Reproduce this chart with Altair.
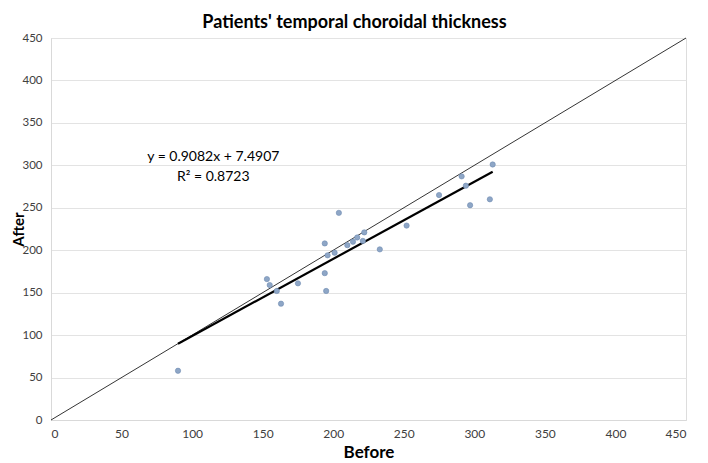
import altair as alt
import pandas as pd

before = [90, 204, 194, 196, 201, 210, 214, 217, 222, 221, 233, 194, 195, 175, 153,
          155, 160, 163, 313, 291, 294, 275, 297, 311, 252]
after = [58, 244, 208, 194, 197, 206, 210, 215, 221, 211, 201, 173, 152, 161, 166,
         159, 152, 137, 301, 287, 276, 265, 253, 260, 229]

identity_x = [0, 450]
eq_lines = ["y = 0.9082x + 7.4907", "R² = 0.8723"]
eq_x = [115, 115]
eq_y = [310, 286]

df = pd.DataFrame({"Before": before, "After": after})
ident = pd.DataFrame({"Before": identity_x, "After": identity_x})
eq = pd.DataFrame({"text": eq_lines, "Before": eq_x, "After": eq_y})

FONT = "Lato"
xs = alt.Scale(domain=[0, 450], nice=False)
ys = alt.Scale(domain=[0, 450], nice=False)

xaxis = alt.Axis(values=list(range(0, 451, 50)), grid=False, ticks=False,
                 domainColor="#d9d9d9", labelFontSize=12, labelColor="#404040",
                 labelPadding=8, title="Before", titleFontSize=17,
                 titleFontWeight="bold", titleColor="#000000",
                 titleY=32, titleBaseline="middle")
yaxis = alt.Axis(values=list(range(0, 451, 50)), grid=True, gridColor="#e3e3e3",
                 ticks=False, domainColor="#d9d9d9", labelFontSize=11.5,
                 labelColor="#404040", labelPadding=9, title="After",
                 titleFontSize=15, titleFontWeight="bold", titleColor="#000000",
                 titleX=-33, titleBaseline="middle", titleAngle=270)

points = alt.Chart(df).mark_circle(size=28, color="#8ea6c6", opacity=1,
                                   stroke="#6f8cb2", strokeWidth=0.6).encode(
    x=alt.X("Before:Q", scale=xs, axis=xaxis),
    y=alt.Y("After:Q", scale=ys, axis=yaxis),
)

identity = alt.Chart(ident).mark_line(color="#000000", strokeWidth=0.8).encode(
    x=alt.X("Before:Q", scale=xs), y=alt.Y("After:Q", scale=ys))

trend = alt.Chart(df).transform_regression("Before", "After").mark_line(
    color="#000000", strokeWidth=2.2).encode(
    x=alt.X("Before:Q", scale=xs), y=alt.Y("After:Q", scale=ys))

text = alt.Chart(eq).mark_text(fontSize=14, font=FONT, color="#000000").encode(
    x=alt.X("Before:Q", scale=xs), y=alt.Y("After:Q", scale=ys), text="text:N")

chart = alt.layer(identity, trend, points, text).properties(
    width=635, height=382,
    title=alt.TitleParams("Patients' temporal choroidal thickness", fontSize=18,
                          font=FONT, fontWeight="bold", color="#000000",
                          offset=0, dx=-14),
    autosize=alt.AutoSizeParams(type="none"),
    padding={"left": 43, "top": 30, "right": 14, "bottom": 43},
).configure_view(stroke=None).configure(font=FONT)

chart.save("out.html", embed_options={"renderer": "svg", "actions": False})
